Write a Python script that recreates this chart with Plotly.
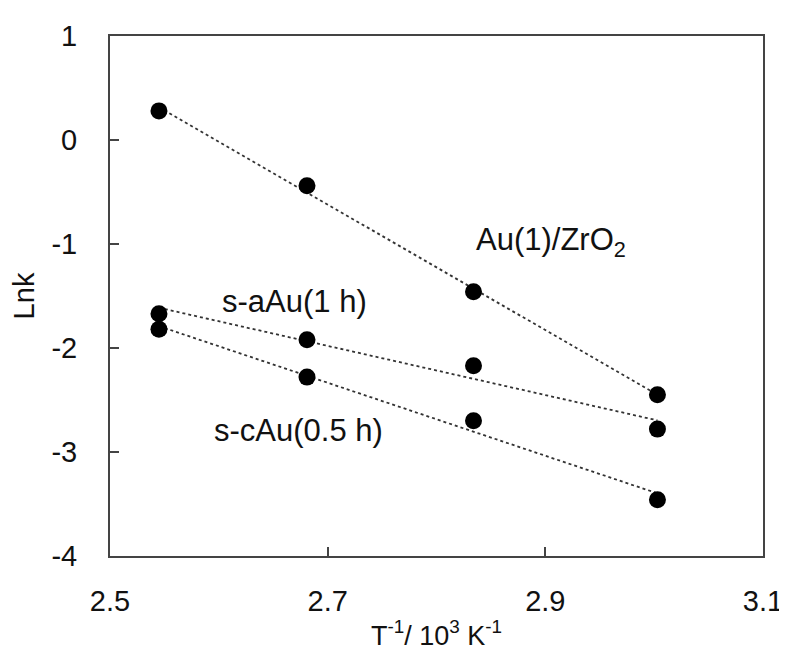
import numpy as np
import plotly.graph_objects as go

# 1000/T values (10^3 K^-1)
inv_T = [2.545, 2.681, 2.834, 3.003]
series_names = ["Au(1)/ZrO2", "s-aAu(1 h)", "s-cAu(0.5 h)"]
lnk_au_zro2 = [0.28, -0.44, -1.46, -2.45]
lnk_saau = [-1.67, -1.92, -2.17, -2.78]
lnk_scau = [-1.82, -2.28, -2.70, -3.46]

x_ticks = [2.5, 2.7, 2.9, 3.1]
y_ticks = [-4, -3, -2, -1, 0, 1]

FONT = "Liberation Sans, Arial, sans-serif"

fig = go.Figure()
x = np.array(inv_T)
for name, ys in zip(series_names, [lnk_au_zro2, lnk_saau, lnk_scau]):
    slope, icpt = np.polyfit(x, np.array(ys), 1)
    xl = np.array([x.min(), x.max()])
    fig.add_trace(go.Scatter(x=xl, y=slope * xl + icpt, mode="lines",
                             line=dict(color="#333333", width=1.8, dash="dot"),
                             showlegend=False, hoverinfo="skip"))
    fig.add_trace(go.Scatter(x=inv_T, y=ys, mode="markers", name=name,
                             marker=dict(color="black", size=17),
                             showlegend=False))

ann_font = dict(family=FONT, size=31, color="#111111")
fig.add_annotation(x=2.834, y=-0.98, xref="x", yref="y", text="Au(1)/ZrO<sub>2</sub>",
                   showarrow=False, xanchor="left", yanchor="middle", font=ann_font)
fig.add_annotation(x=2.601, y=-1.55, xref="x", yref="y", text="s-aAu(1 h)",
                   showarrow=False, xanchor="left", yanchor="middle", font=ann_font)
fig.add_annotation(x=2.594, y=-2.79, xref="x", yref="y", text="s-cAu(0.5 h)",
                   showarrow=False, xanchor="left", yanchor="middle", font=ann_font)

axis_common = dict(showgrid=False, zeroline=False, showline=True, mirror=True,
                   linecolor="#444444", linewidth=2, ticks="inside", ticklen=9,
                   tickcolor="#444444", tickwidth=1.5,
                   tickfont=dict(family=FONT, size=29, color="#111111"))

fig.update_xaxes(range=[2.5, 3.1], tickvals=x_ticks, ticktext=[f"{v:.1f}" for v in x_ticks],
                 ticklabelstandoff=18,
                 title=dict(text="T<sup>-1</sup>/ 10<sup>3</sup> K<sup>-1</sup>",
                            font=dict(family=FONT, size=27, color="#111111"), standoff=10),
                 **axis_common)
fig.update_yaxes(range=[-4, 1], tickvals=y_ticks, ticktext=[str(v) for v in y_ticks],
                 ticklabelstandoff=25,
                 title=dict(text="Lnk", font=dict(family=FONT, size=29, color="#111111"),
                            standoff=11),
                 **axis_common)

# page body has an 8px default margin; compensate so the plot area lands at
# x 103..767, y 24..558 in the 787x650 window
fig.update_layout(width=787, height=650, plot_bgcolor="white", paper_bgcolor="white",
                  margin=dict(l=95, r=28, t=16, b=100), showlegend=False)

fig.write_html("out.html")
